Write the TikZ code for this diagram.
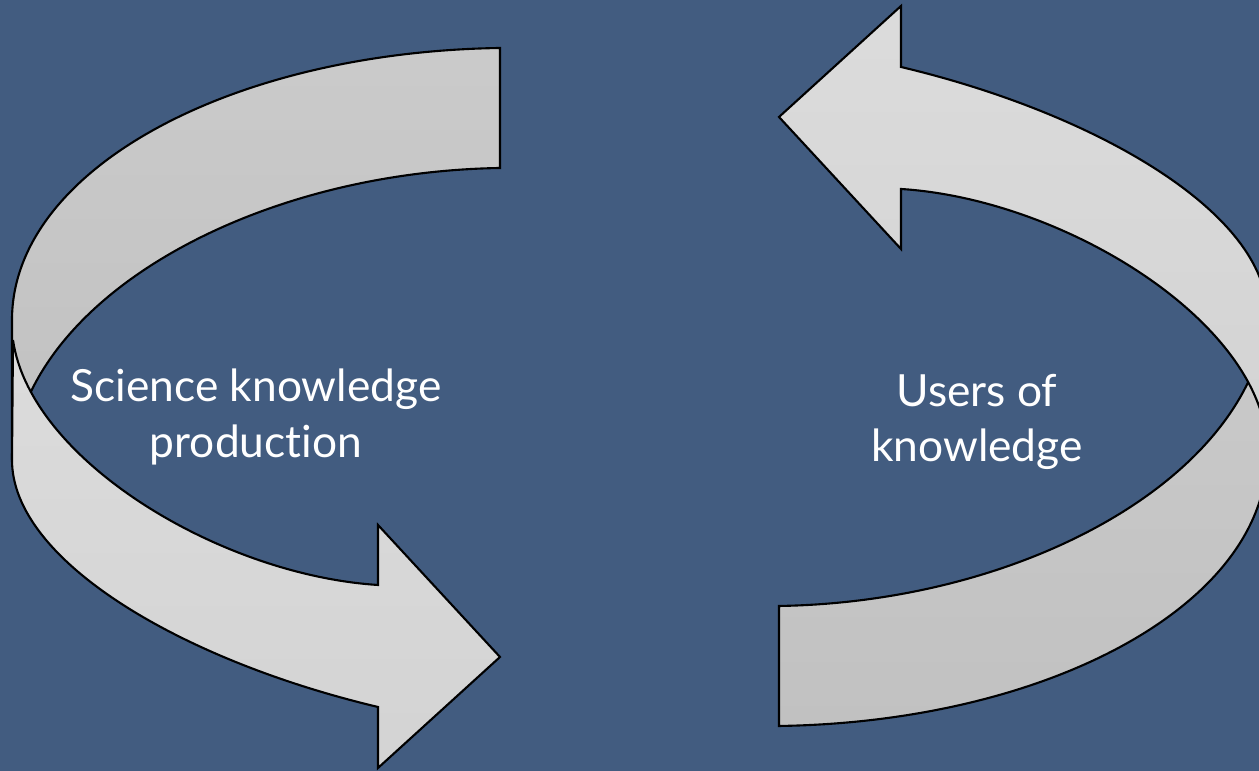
\documentclass[tikz,border=0pt]{standalone}
\usepackage{fontspec}
\setmainfont{Lato}[Ligatures=NoCommon]
\definecolor{slide}{RGB}{66,92,128}
\definecolor{bandback}{RGB}{199,199,199}
\definecolor{bandfront}{RGB}{218,218,218}

\tikzset{
  band/.style={draw=black,line width=0.6pt},
  backband/.style={band,top color=bandback!94!white,bottom color=bandback!97!black},
  frontband/.style={band,top color=bandfront!96!white,bottom color=bandfront!97!black},
  looptext/.style={text=white,align=center,font=\fontsize{12.6}{15.8}\selectfont},
  pics/ribbon/.style={code={
    \path[backband] (500,48) .. controls (230,52) and (12,170) .. (12,320) -- (12,460)
      .. controls (25,300) and (250,172) .. (500,168) -- cycle;
    \path[frontband] (13,340) .. controls (30,460) and (220,575) .. (378,585)
      -- (378,525) -- (500,657) -- (378,768) -- (378,707)
      .. controls (180,660) and (12,560) .. (12,460) -- cycle;
  }}
}

\begin{document}
\begin{tikzpicture}[x=0.01cm,y=-0.01cm]
  \useasboundingbox (0,0) rectangle (1259,771);
  \fill[slide] (0,0) rectangle (1259,771);

  % science side, arrow pointing right at the bottom
  \pic at (0,0) {ribbon};
  % users side, same ribbon turned round
  \pic[rotate=180] at (1279,774) {ribbon};

  \node[looptext] (sci) at (256,417) {Science knowledge\\production};
  \node[looptext] (users) at (977,422) {Users of\\knowledge};
\end{tikzpicture}
\end{document}
